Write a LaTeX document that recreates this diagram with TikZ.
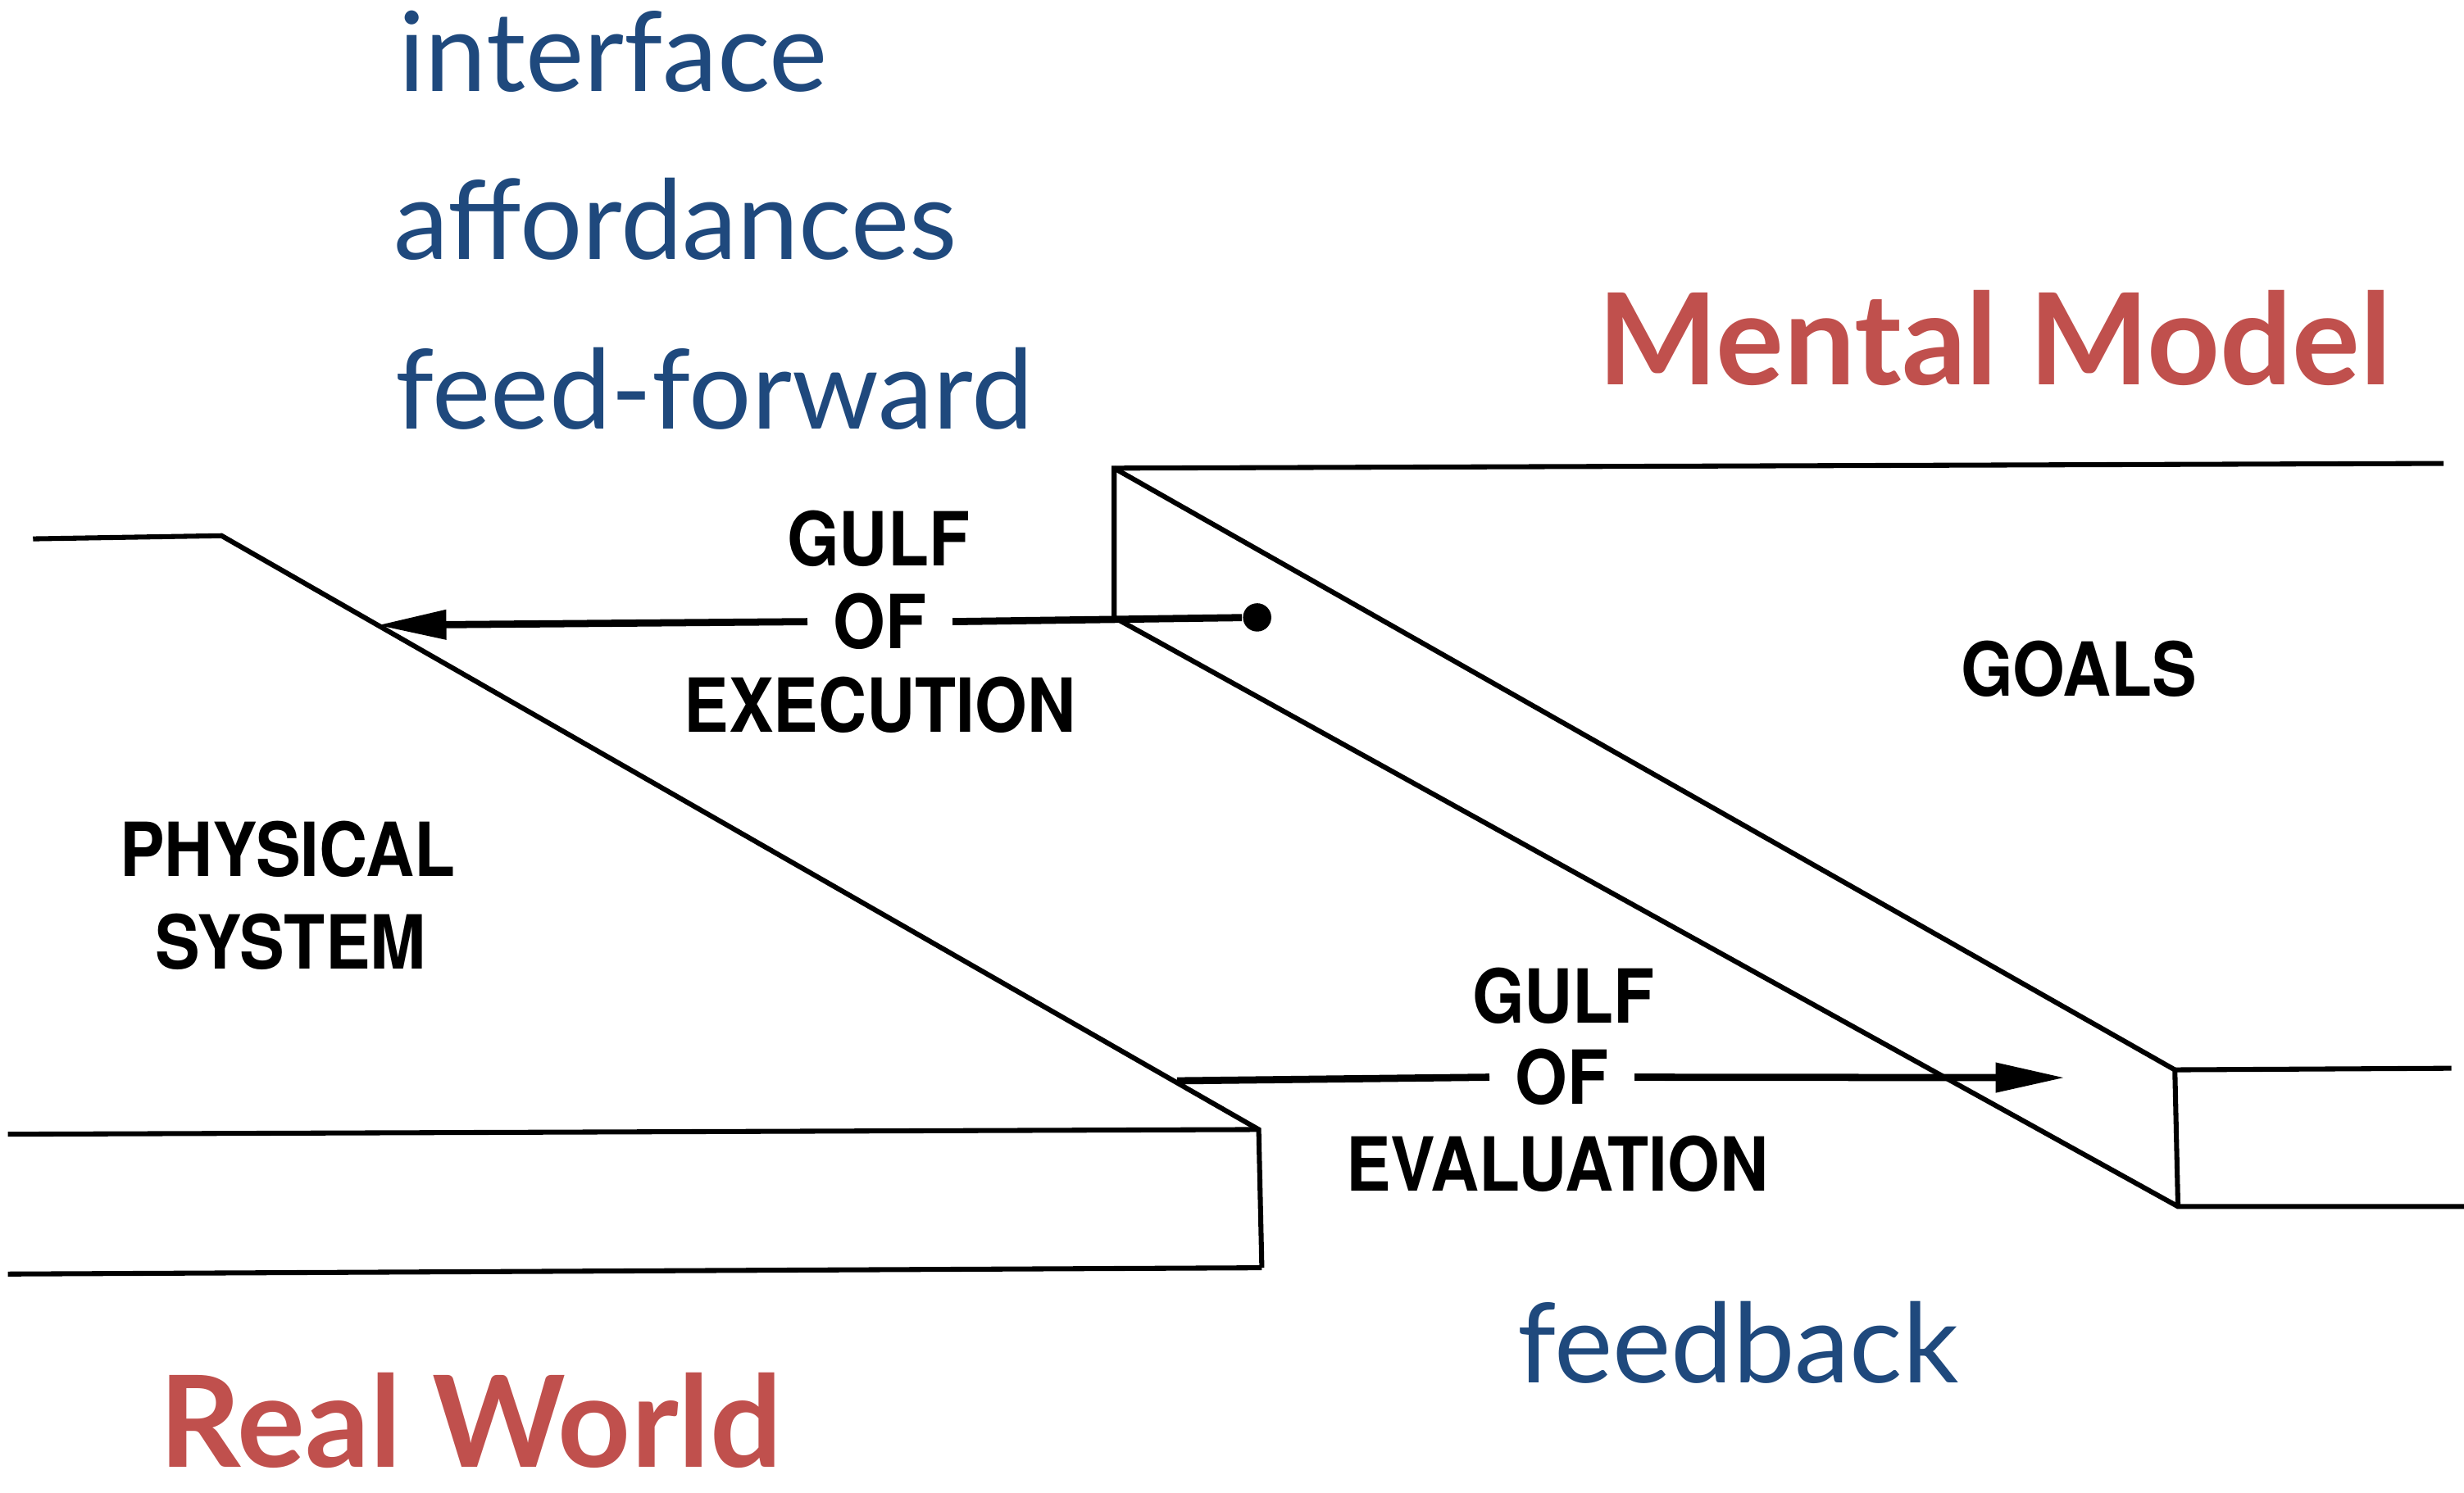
\documentclass[tikz,border=0pt]{standalone}
\usepackage{fontspec}
\setmainfont{Lato}
\newfontfamily\gulffont[FakeStretch=0.9]{TeX Gyre Heros}
\usepackage{xcolor}
\usepackage{tikz}
\usetikzlibrary{arrows.meta,positioning}
\definecolor{noteblue}{HTML}{1F497D}
\definecolor{worldred}{HTML}{C0504D}

\begin{document}
\begin{tikzpicture}[
    x=0.01cm,y=-0.01cm,
    >={Triangle[length=4.4mm,width=1.8mm]},
    edge/.style={line width=0.9pt,draw=black,line join=miter},
    gulf/.style={line width=1.3pt,draw=black},
    caps/.style={font=\gulffont\bfseries\fontsize{13.5}{16}\selectfont,inner sep=0pt,anchor=base},
    gap/.style={caps,inner xsep=4.5pt,inner ysep=1pt},
    note/.style={font=\fontsize{20}{24}\selectfont,text=noteblue,inner sep=0pt,anchor=base west},
    world/.style={font=\bfseries\fontsize{23}{27}\selectfont,text=worldred,inner sep=0pt,anchor=base west},
    dot/.style={circle,fill=black,inner sep=0pt,minimum size=1.8mm}
  ]
    \useasboundingbox (0,0) rectangle (1568,950);
    % left side: physical system
    \draw[edge] (21,343) -- (141,341) -- (801,719) -- (803,807);
    \draw[edge] (5,722) -- (801,719);
    \draw[edge] (5,811) -- (803,807);
    % right side: goals block
    \draw[edge] (1555,295) -- (709,298) -- (709,393) -- (1386,768) -- (1568,768);
    \draw[edge] (709,298) -- (1384,681) -- (1386,768);
    \draw[edge] (1384,681) -- (1560,680);
    % texts
    \node[note] (interface) at (253,58) {interface};
    \node[note] (affordances) at (250,165) {affordances};
    \node[note] (feedforward) at (251,273) {feed-forward};
    \node[note] (feedback) at (965,880) {feedback};
    \node[world] (mentalmodel) at (1016,245) {Mental Model};
    \node[world] (realworld) at (101,934) {Real World};
    \node[caps] (goals) at (1323,443) {GOALS};
    \node[caps] (physical) at (183,558) {PHYSICAL};
    \node[caps] (system) at (185,617) {SYSTEM};
    % gulf of execution
    \node[caps] (gulfexec) at (559,360) {GULF};
    \node[gap] (ofexec) at (560,413) {OF};
    \node[caps] (execution) at (560,466) {EXECUTION};
    \node[dot] (execdot) at (800,393) {};
    \coordinate (exectip) at (240,398);
    \draw[gulf] (execdot) -- (ofexec.east);
    \draw[gulf,->] (ofexec.west) -- (exectip);
    % gulf of evaluation
    \node[caps] (gulfeval) at (995,651) {GULF};
    \node[gap] (ofeval) at (994,703) {OF};
    \node[caps] (evaluation) at (991,758) {EVALUATION};
    \coordinate (evalstart) at (749,688);
    \coordinate (evaltip) at (1314,686);
    \draw[gulf] (evalstart) -- (ofeval.west);
    \draw[gulf,->] (ofeval.east) -- (evaltip);
  \end{tikzpicture}
\end{document}
